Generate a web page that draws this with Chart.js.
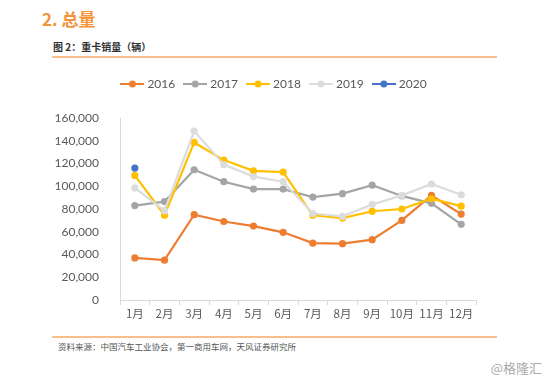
<!DOCTYPE html>
<html>
<head>
<meta charset="utf-8">
<script src="https://cdn.jsdelivr.net/npm/chart.js@4"></script>
<style>
  body { margin: 0; width: 550px; height: 381px; background: #fff; position: relative; overflow: hidden; font-family: "Noto Sans CJK SC", sans-serif; }
  .head { position: absolute; left: 42px; top: 6px; font-size: 17px; font-weight: bold; color: #F5933A; }
  .sub { position: absolute; left: 53px; top: 39px; font-size: 10px; font-weight: bold; color: #333; }
  .rule { position: absolute; left: 52px; width: 445px; height: 2px; background: #F8BE8C; }
  .src { position: absolute; left: 58px; top: 340px; font-size: 8.5px; color: #555; }
  .mark { position: absolute; right: 8px; top: 358px; font-size: 13px; color: #aaa; }
  .wrap { position: absolute; left: 0; top: 60px; width: 550px; height: 270px; }
</style>
</head>
<body>
<div class="head">2. 总量</div>
<div class="sub">图 2：重卡销量（辆）</div>
<div class="rule" style="top:56px"></div>
<div class="wrap"><canvas id="chart"></canvas></div>
<div class="rule" style="top:336px"></div>
<div class="src">资料来源：中国汽车工业协会，第一商用车网，天风证券研究所</div>
<div class="mark">@格隆汇</div>

<script>
const months = ['1月', '2月', '3月', '4月', '5月', '6月', '7月', '8月', '9月', '10月', '11月', '12月'];
const years = ['2016', '2017', '2018', '2019', '2020'];
const colors = ['#ED7D31', '#A5A5A5', '#FFC000', '#DCDCDC', '#4472C4'];

const sales2016 = [37000, 35000, 75000, 69000, 65000, 59500, 50000, 49500, 53000, 70000, 92000, 75500];
const sales2017 = [83000, 86500, 114500, 104000, 97500, 97500, 90500, 93500, 101000, 91500, 85000, 66500];
const sales2018 = [109500, 74500, 138500, 123000, 113500, 112500, 74500, 72000, 78000, 80000, 89000, 82500];
const sales2019 = [98500, 78500, 148500, 119000, 108500, 104000, 76000, 73500, 84000, 92000, 102000, 92500];
const sales2020 = [116000];

const series = [sales2016, sales2017, sales2018, sales2019, sales2020];

// legend marker: short line with a dot in the middle
function legendIcon(color) {
  const c = document.createElement('canvas');
  c.width = 24; c.height = 8;
  const ctx = c.getContext('2d');
  ctx.strokeStyle = color;
  ctx.lineWidth = 2;
  ctx.beginPath(); ctx.moveTo(0, 4); ctx.lineTo(24, 4); ctx.stroke();
  ctx.fillStyle = color;
  ctx.beginPath(); ctx.arc(12, 4, 3.5, 0, Math.PI * 2); ctx.fill();
  return c;
}
const icons = colors.map(legendIcon);

const legendSpace = {
  id: 'legendSpace',
  beforeInit(chart) {
    const fit = chart.legend.fit;
    chart.legend.fit = function() {
      fit.call(this);
      this.height = 51;
    };
  }
};

const datasets = years.map((y, i) => ({
  label: y,
  data: series[i],
  borderColor: colors[i],
  backgroundColor: colors[i],
  pointBackgroundColor: colors[i],
  pointBorderWidth: 0,
  pointRadius: 3.6,
  pointHoverRadius: 3.6,
  borderWidth: 2.2,
  tension: 0,
  order: years.length - i
}));

new Chart(document.getElementById('chart'), {
  type: 'line',
  data: { labels: months, datasets: datasets },
  options: {
    responsive: true,
    maintainAspectRatio: false,
    animation: false,
    layout: { padding: { left: 0, right: 0, top: 7, bottom: 0 } },
    plugins: {
      tooltip: { enabled: false },
      legend: {
        position: 'top',
        labels: {
          usePointStyle: true,
          pointStyleWidth: 18,
          padding: 11,
          color: '#595959',
          font: { family: 'Lato', size: 12 },
          generateLabels(chart) {
            const items = Chart.defaults.plugins.legend.labels.generateLabels(chart);
            items.forEach(it => { it.pointStyle = icons[it.datasetIndex]; });
            return items;
          },
          sort: (a, b) => a.datasetIndex - b.datasetIndex
        }
      }
    },
    scales: {
      x: {
        offset: true,
        grid: { display: true, drawOnChartArea: false, drawTicks: true, tickLength: 5, color: '#D9D9D9', offset: true },
        border: { display: true, color: '#D9D9D9' },
        ticks: { color: '#595959', font: { family: 'Noto Sans CJK SC', size: 11.5 }, padding: 2, maxRotation: 0, autoSkip: false },
        afterFit(scale) { scale.height = 30; }
      },
      y: {
        min: 0,
        max: 160000,
        grid: { display: false },
        border: { display: true, color: '#D9D9D9' },
        ticks: {
          stepSize: 20000,
          padding: 13,
          color: '#595959',
          font: { family: 'Lato', size: 12 },
          callback: v => v.toLocaleString('en-US')
        },
        afterFit(scale) { scale.width = 120; }
      },
      yRight: {
        position: 'right',
        display: true,
        grid: { display: false },
        border: { display: false },
        ticks: { display: false },
        afterFit(scale) { scale.width = 74; }
      }
    }
  },
  plugins: [legendSpace]
});
</script>
</body>
</html>
